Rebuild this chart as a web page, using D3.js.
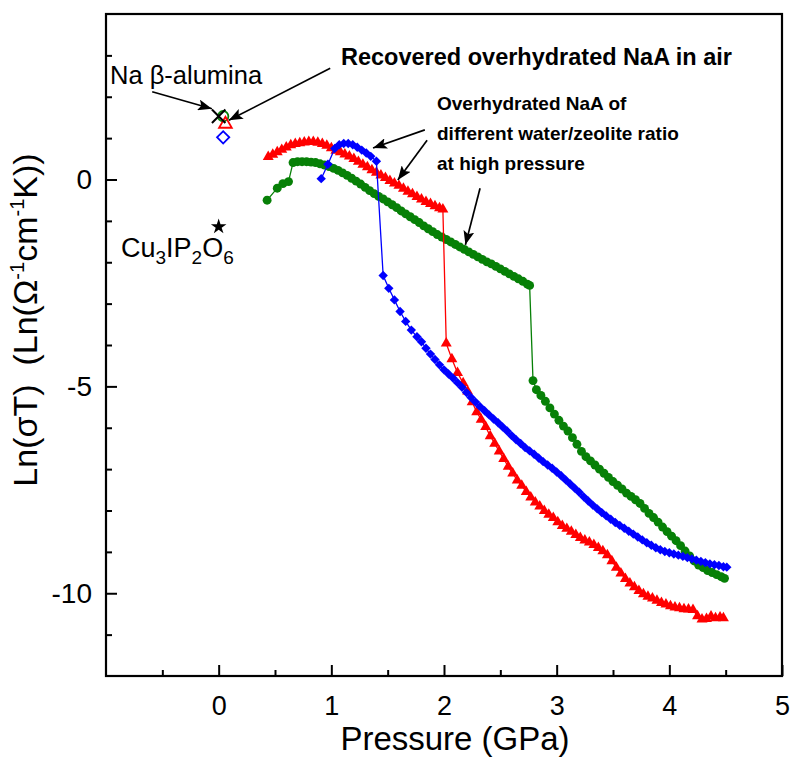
<!DOCTYPE html>
<html>
<head>
<meta charset="utf-8">
<script src="https://cdn.jsdelivr.net/npm/d3@7"></script>
<style>
  body { margin: 0; background: #fff; }
  svg { display: block; font-family: "Liberation Sans", Arial, sans-serif; }
</style>
</head>
<body>
<svg width="791" height="759"></svg>
<script>
// pressure (GPa), ln(sigma T) pairs
const redSeries = [
  [0.44, 0.55], [0.48, 0.60], [0.52, 0.66], [0.56, 0.72], [0.60, 0.78], [0.64, 0.83],
  [0.68, 0.86], [0.72, 0.88], [0.76, 0.90], [0.80, 0.91], [0.84, 0.91], [0.88, 0.89],
  [0.92, 0.86], [0.96, 0.82], [1.00, 0.76], [1.04, 0.70], [1.08, 0.66], [1.12, 0.61],
  [1.16, 0.56], [1.20, 0.50], [1.24, 0.43], [1.28, 0.36], [1.32, 0.30], [1.36, 0.23],
  [1.40, 0.17], [1.44, 0.10], [1.48, 0.04], [1.52, -0.03], [1.56, -0.09], [1.60, -0.15],
  [1.64, -0.22], [1.68, -0.29], [1.72, -0.35], [1.76, -0.42], [1.80, -0.48], [1.84, -0.54],
  [1.88, -0.59], [1.92, -0.64], [1.96, -0.69], [1.99, -0.72],
  [2.02, -3.96], [2.07, -4.34], [2.12, -4.67], [2.17, -4.92], [2.21, -5.12], [2.25, -5.38],
  [2.29, -5.62], [2.33, -5.80], [2.37, -5.98], [2.41, -6.20], [2.45, -6.38], [2.49, -6.57],
  [2.53, -6.75], [2.57, -6.94], [2.61, -7.10], [2.65, -7.27], [2.69, -7.40], [2.73, -7.55],
  [2.77, -7.68], [2.81, -7.80], [2.85, -7.90], [2.89, -8.01], [2.93, -8.10], [2.97, -8.18],
  [3.01, -8.28], [3.05, -8.37], [3.09, -8.44], [3.13, -8.51], [3.17, -8.59], [3.21, -8.66],
  [3.25, -8.72], [3.29, -8.77], [3.33, -8.83], [3.37, -8.90], [3.41, -8.98], [3.45, -9.08],
  [3.49, -9.22], [3.53, -9.38], [3.57, -9.52], [3.61, -9.65], [3.65, -9.76], [3.69, -9.85],
  [3.73, -9.94], [3.77, -10.02], [3.81, -10.08], [3.85, -10.12], [3.89, -10.18], [3.93, -10.23],
  [3.97, -10.27], [4.01, -10.31], [4.05, -10.34], [4.09, -10.36], [4.13, -10.38], [4.17, -10.39],
  [4.21, -10.40], [4.25, -10.55], [4.29, -10.63], [4.33, -10.62], [4.37, -10.56], [4.41, -10.60],
  [4.45, -10.58], [4.48, -10.60]
]

const greenSeries = [
  [0.43, -0.50], [0.52, -0.21], [0.57, -0.10], [0.62, -0.05],
  [0.66, 0.41], [0.70, 0.43], [0.74, 0.43], [0.78, 0.43], [0.82, 0.42], [0.86, 0.41],
  [0.90, 0.38], [0.94, 0.35], [0.98, 0.31], [1.02, 0.27], [1.06, 0.22], [1.10, 0.16],
  [1.14, 0.10], [1.18, 0.03], [1.22, -0.04], [1.26, -0.11], [1.30, -0.19], [1.34, -0.27],
  [1.38, -0.34], [1.42, -0.41], [1.46, -0.47], [1.50, -0.54], [1.54, -0.61], [1.58, -0.68],
  [1.62, -0.76], [1.66, -0.83], [1.70, -0.90], [1.74, -0.97], [1.78, -1.04], [1.82, -1.12],
  [1.86, -1.19], [1.90, -1.26], [1.94, -1.33], [1.98, -1.39], [2.02, -1.45], [2.06, -1.51],
  [2.10, -1.57], [2.14, -1.63], [2.18, -1.69], [2.22, -1.75], [2.26, -1.81], [2.30, -1.87],
  [2.34, -1.93], [2.38, -1.99], [2.42, -2.04], [2.46, -2.10], [2.50, -2.16], [2.54, -2.22],
  [2.58, -2.28], [2.62, -2.34], [2.66, -2.40], [2.70, -2.46], [2.74, -2.53], [2.76, -2.56],
  [2.79, -4.86], [2.82, -5.08], [2.86, -5.22], [2.90, -5.36], [2.94, -5.52], [2.98, -5.67],
  [3.02, -5.82], [3.06, -5.96], [3.10, -6.08], [3.14, -6.24], [3.18, -6.40], [3.22, -6.57],
  [3.26, -6.70], [3.30, -6.80], [3.34, -6.90], [3.38, -7.00], [3.42, -7.10], [3.46, -7.20],
  [3.50, -7.30], [3.54, -7.39], [3.58, -7.48], [3.62, -7.58], [3.66, -7.66], [3.70, -7.74],
  [3.74, -7.83], [3.78, -7.95], [3.82, -8.07], [3.86, -8.17], [3.90, -8.28], [3.94, -8.40],
  [3.98, -8.51], [4.02, -8.62], [4.06, -8.73], [4.10, -8.85], [4.14, -8.98], [4.18, -9.10],
  [4.22, -9.22], [4.26, -9.32], [4.30, -9.38], [4.34, -9.45], [4.38, -9.50], [4.42, -9.55],
  [4.46, -9.60], [4.49, -9.64]
]

const blueSeries = [
  [0.91, 0.02], [0.97, 0.37], [1.03, 0.75], [1.07, 0.84], [1.11, 0.87], [1.15, 0.87],
  [1.19, 0.84], [1.23, 0.78], [1.27, 0.71], [1.31, 0.64], [1.35, 0.56], [1.40, 0.44],
  [1.46, -2.32], [1.51, -2.63], [1.56, -2.91], [1.61, -3.19], [1.66, -3.43], [1.71, -3.64],
  [1.76, -3.80], [1.80, -3.92], [1.84, -4.08], [1.88, -4.22], [1.92, -4.35], [1.96, -4.48],
  [2.00, -4.60], [2.04, -4.70], [2.08, -4.80], [2.12, -4.91], [2.16, -5.02], [2.20, -5.15],
  [2.24, -5.27], [2.28, -5.38], [2.32, -5.49], [2.36, -5.59], [2.40, -5.69], [2.44, -5.79],
  [2.48, -5.88], [2.52, -5.98], [2.56, -6.08], [2.60, -6.19], [2.64, -6.29], [2.68, -6.38],
  [2.72, -6.48], [2.76, -6.56], [2.80, -6.64], [2.84, -6.73], [2.88, -6.82], [2.92, -6.90],
  [2.96, -6.98], [3.00, -7.07], [3.04, -7.16], [3.08, -7.26], [3.12, -7.36], [3.16, -7.46],
  [3.20, -7.56], [3.24, -7.67], [3.28, -7.77], [3.32, -7.87], [3.36, -7.96], [3.40, -8.05],
  [3.44, -8.13], [3.48, -8.21], [3.52, -8.29], [3.56, -8.36], [3.60, -8.43], [3.64, -8.50],
  [3.68, -8.57], [3.72, -8.64], [3.76, -8.71], [3.80, -8.78], [3.84, -8.84], [3.88, -8.90],
  [3.92, -8.95], [3.96, -8.99], [4.00, -9.02], [4.04, -9.05], [4.08, -9.08], [4.12, -9.11],
  [4.16, -9.14], [4.20, -9.17], [4.24, -9.20], [4.28, -9.23], [4.32, -9.26], [4.36, -9.29],
  [4.40, -9.31], [4.44, -9.33], [4.48, -9.36], [4.51, -9.37]
]

// reference points at ambient pressure
const naBetaAlumina = [0.0, 1.53]
const cu3ip2o6 = [0.0, -1.14]
const recoveredGreen = [0.04, 1.53]
const recoveredRed = [0.06, 1.34]
const recoveredBlue = [0.04, 1.02]

const xMajor = [0, 1, 2, 3, 4, 5]
const xMinor = [-0.5, 0.5, 1.5, 2.5, 3.5, 4.5]
const yMajor = [-10, -5, 0]
const yMinor = d3.range(-11, 4).filter(v => v % 5 !== 0)

const W = 791, H = 759
const margin = {top: 14, right: 9, bottom: 83, left: 106}
const svg = d3.select('svg')

const x = d3.scaleLinear().domain([-1, 5]).range([margin.left, W - margin.right])
const y = d3.scaleLinear().domain([-12, 4]).range([H - margin.bottom, margin.top])

const RED = '#ff0000', GREEN = '#078007', BLUE = '#0000ff'

// axes (ticks point inward)
const xAxis = svg.append('g')
  .attr('transform', `translate(0,${y(-12)})`)
  .call(d3.axisBottom(x).tickValues(xMajor).tickSize(-11).tickPadding(20).tickFormat(d3.format('d')))
svg.append('g')
  .attr('transform', `translate(0,${y(-12)})`)
  .call(d3.axisBottom(x).tickValues(xMinor).tickSize(-6).tickFormat(''))
const yAxis = svg.append('g')
  .attr('transform', `translate(${x(-1)},0)`)
  .call(d3.axisLeft(y).tickValues(yMajor).tickSize(-11).tickPadding(14).tickFormat(d3.format('d')))
svg.append('g')
  .attr('transform', `translate(${x(-1)},0)`)
  .call(d3.axisLeft(y).tickValues(yMinor).tickSize(-6).tickFormat(''))

svg.selectAll('.domain').remove()
svg.selectAll('.tick line').attr('stroke', '#000').attr('stroke-width', 2)
xAxis.selectAll('text').attr('font-size', 27).attr('fill', '#000')
yAxis.selectAll('text').attr('font-size', 28).attr('fill', '#000')
  .text(d => d < 0 ? '-' + Math.abs(d) : d)

svg.append('rect')
  .attr('x', x(-1)).attr('y', y(4))
  .attr('width', x(5) - x(-1)).attr('height', y(-12) - y(4))
  .attr('fill', 'none').attr('stroke', '#000').attr('stroke-width', 2.2)

// axis titles
svg.append('text')
  .attr('x', 455).attr('y', 750)
  .attr('text-anchor', 'middle').attr('font-size', 33)
  .text('Pressure (GPa)')

const yt = svg.append('text')
  .attr('transform', 'translate(37,320) rotate(-90)')
  .attr('text-anchor', 'middle').attr('font-size', 34)
  .style('white-space', 'pre')
yt.append('tspan').text('Ln(σT)  (Ln(Ω')
yt.append('tspan').attr('font-size', 20).attr('dy', -13).text('-1')
yt.append('tspan').attr('dy', 13).text('cm')
yt.append('tspan').attr('font-size', 20).attr('dy', -13).text('-1')
yt.append('tspan').attr('dy', 13).text('K))')

// series
const line = d3.line().x(d => x(d[0])).y(d => y(d[1]))
const series = [
  {data: greenSeries, color: GREEN, sym: d3.symbolCircle, size: 62, rot: 0},
  {data: redSeries, color: RED, sym: d3.symbolTriangle, size: 52, rot: 0},
  {data: blueSeries, color: BLUE, sym: d3.symbolSquare, size: 44, rot: 45}
]

series.forEach(s => {
  svg.append('path')
    .attr('d', line(s.data))
    .attr('fill', 'none').attr('stroke', s.color).attr('stroke-width', 1.3)
  svg.append('g').selectAll('path')
    .data(s.data)
    .join('path')
    .attr('d', d3.symbol().type(s.sym).size(s.size))
    .attr('transform', d => `translate(${x(d[0])},${y(d[1])}) rotate(${s.rot})`)
    .attr('fill', s.color)
})

// open reference markers
svg.append('path')
  .attr('d', d3.symbol().type(d3.symbolCircle).size(85)())
  .attr('transform', `translate(${x(recoveredGreen[0])},${y(recoveredGreen[1])})`)
  .attr('fill', 'none').attr('stroke', GREEN).attr('stroke-width', 1.8)
svg.append('path')
  .attr('d', d3.symbol().type(d3.symbolTriangle).size(70)())
  .attr('transform', `translate(${x(recoveredRed[0])},${y(recoveredRed[1])})`)
  .attr('fill', 'none').attr('stroke', RED).attr('stroke-width', 1.8)
svg.append('path')
  .attr('d', d3.symbol().type(d3.symbolSquare).size(75)())
  .attr('transform', `translate(${x(recoveredBlue[0])},${y(recoveredBlue[1])}) rotate(45)`)
  .attr('fill', 'none').attr('stroke', BLUE).attr('stroke-width', 1.8)
svg.append('path')
  .attr('d', d3.symbol().type(d3.symbolX).size(120)())
  .attr('transform', `translate(${x(naBetaAlumina[0])},${y(naBetaAlumina[1])})`)
  .attr('fill', 'none').attr('stroke', '#000').attr('stroke-width', 2)
svg.append('path')
  .attr('d', d3.symbol().type(d3.symbolStar).size(75)())
  .attr('transform', `translate(${x(cu3ip2o6[0])},${y(cu3ip2o6[1])})`)
  .attr('fill', '#000')

// annotations
svg.append('defs').append('marker')
  .attr('id', 'arrow').attr('viewBox', '0 0 14 11')
  .attr('refX', 14).attr('refY', 5.5)
  .attr('markerWidth', 14).attr('markerHeight', 11)
  .attr('markerUnits', 'userSpaceOnUse').attr('orient', 'auto')
  .append('path').attr('d', 'M0,0L14,5.5L0,11L3,5.5Z').attr('fill', '#000')

const arrows = [
  [[-0.59, 2.12], [-0.06, 1.71]],
  [[0.99, 2.69], [0.09, 1.43]],
  [[1.83, 1.20], [1.37, 0.76]],
  [[1.85, 0.95], [1.59, -0.01]],
  [[2.32, -0.21], [2.19, -1.58]]
]
svg.append('g').selectAll('line')
  .data(arrows)
  .join('line')
  .attr('x1', d => x(d[0][0])).attr('y1', d => y(d[0][1]))
  .attr('x2', d => x(d[1][0])).attr('y2', d => y(d[1][1]))
  .attr('stroke', '#000').attr('stroke-width', 1.7)
  .attr('marker-end', 'url(#arrow)')

svg.append('text').attr('x', 110).attr('y', 84).attr('font-size', 25.5)
  .text('Na β-alumina')

const cu = svg.append('text').attr('x', 121).attr('y', 257).attr('font-size', 27)
cu.append('tspan').text('Cu')
cu.append('tspan').attr('font-size', 19).attr('dy', 7).text('3')
cu.append('tspan').attr('dy', -7).text('IP')
cu.append('tspan').attr('font-size', 19).attr('dy', 7).text('2')
cu.append('tspan').attr('dy', -7).text('O')
cu.append('tspan').attr('font-size', 19).attr('dy', 7).text('6')

svg.append('text').attr('x', 341).attr('y', 65)
  .attr('font-size', 23.5).attr('font-weight', 'bold')
  .text('Recovered overhydrated NaA in air')

const labelLines = ['Overhydrated NaA of', 'different water/zeolite ratio', 'at high pressure']
svg.append('g').selectAll('text')
  .data(labelLines)
  .join('text')
  .attr('x', 437).attr('y', (d, i) => 110 + i * 30)
  .attr('font-size', 19).attr('font-weight', 'bold')
  .text(d => d)
</script>
</body>
</html>
